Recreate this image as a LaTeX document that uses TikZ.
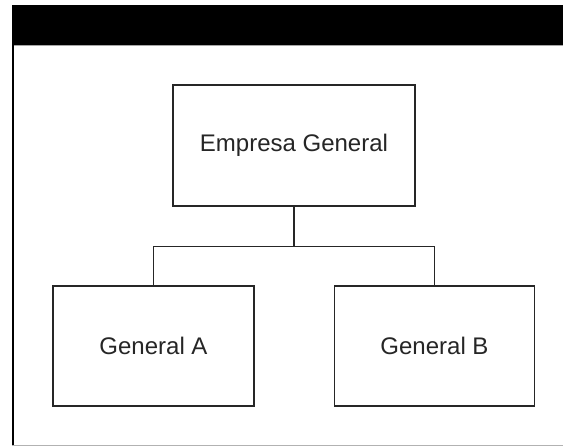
\documentclass[tikz,border=0pt]{standalone}
\usepackage{fontspec}
\setmainfont{Liberation Sans}
\usetikzlibrary{calc}
\begin{document}
\begin{tikzpicture}[x=1pt,y=-1pt,
  orgbox/.style={draw=black!85, line width=1.5pt, fill=white, inner sep=0pt,
    font=\fontsize{24}{28}\selectfont, text=black!85},
  link/.style={draw=black!85, line width=1.5pt}]
  \useasboundingbox (0,0) rectangle (563,446);
  \fill[white] (0,0) rectangle (563,446);
  % window frame: title bar, left edge and bottom edge
  \fill[black] (12,5) rectangle (563,45.5);
  \draw[gray!70, line width=1pt] (12,46) -- (563,46);
  \draw[black, line width=1.5pt] (12.8,45) -- (12.8,446);
  \draw[gray!60, line width=1pt] (12,445.3) -- (563,445.3);
  % organisation chart
  \node[orgbox, minimum width=242pt, minimum height=121pt] (top) at (294,145.5) {Empresa General};
  \node[orgbox, minimum width=201pt, minimum height=120pt] (ga) at (153.5,346) {General A};
  \node[orgbox, minimum width=200pt, minimum height=120pt] (gb) at (434.5,346) {General B};
  \coordinate (split) at ($(top.south)+(0,40)$);
  \draw[link] (top.south) -- (split) -| (ga.north);
  \draw[link] (split) -| (gb.north);
\end{tikzpicture}
\end{document}
